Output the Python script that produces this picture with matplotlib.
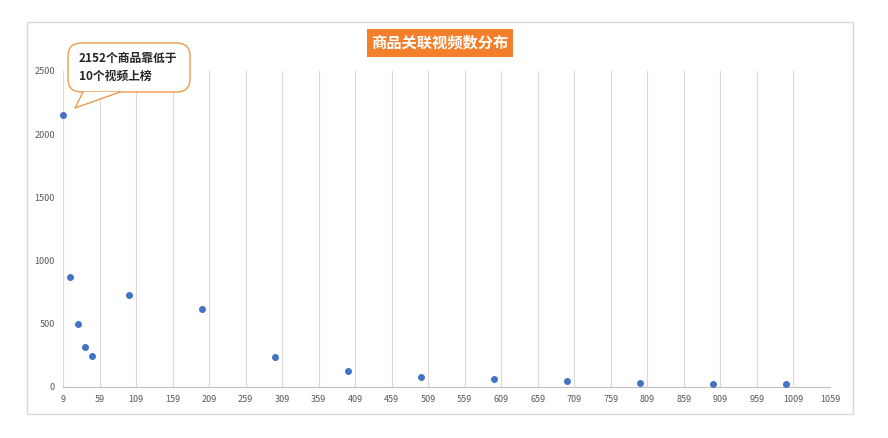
import matplotlib
matplotlib.use("Agg")
import matplotlib.pyplot as plt
from matplotlib.patches import Rectangle, FancyBboxPatch, Polygon
from matplotlib.lines import Line2D

plt.rcParams['font.family'] = ['Noto Sans CJK SC', 'DejaVu Sans']

# data
video_counts = [9, 19, 29, 39, 49, 99, 199, 299, 399, 499, 599, 699, 799, 899, 999]
product_counts = [2152, 870, 498, 316, 245, 728, 617, 237, 127, 79, 63, 47, 32, 24, 24]
x_ticks = list(range(9, 1060, 50))
y_ticks = [0, 500, 1000, 1500, 2000, 2500]
title = "商品关联视频数分布"
callout = "2152个商品靠低于\n10个视频上榜"

W, H = 888, 438
fig = plt.figure(figsize=(W / 100, H / 100), dpi=100)
fig.patch.set_facecolor('white')

def fx(px):
    return px / W

def fy(py):
    return 1 - py / H

# outer chart border
fig.patches.append(Rectangle((fx(27), fy(414)), fx(853) - fx(27), fy(22) - fy(414),
                             transform=fig.transFigure, fill=False,
                             edgecolor='#D9D9D9', linewidth=1.0))

ax = fig.add_axes([fx(63), fy(387), fx(830) - fx(63), fy(71) - fy(387)])
ax.scatter(video_counts, product_counts, s=16, color='#4472C4', zorder=3, clip_on=False)
ax.set_xlim(9, 1059)
ax.set_ylim(0, 2500)
ax.set_xticks(x_ticks)
ax.set_yticks(y_ticks)
ax.set_xticklabels([str(v) for v in x_ticks])
ax.set_yticklabels([str(v) for v in y_ticks])
ax.tick_params(axis='both', length=0, labelsize=6.5, colors='#595959', pad=6)
ax.grid(axis='x', color='#D9D9D9', linewidth=0.8)
ax.grid(axis='y', visible=False)
for s in ['top', 'right', 'left']:
    ax.spines[s].set_visible(False)
ax.spines['bottom'].set_color('#BFBFBF')
ax.spines['bottom'].set_linewidth(0.8)
ax.set_axisbelow(True)

# title box
x0, x1, y0, y1 = 367, 513, 29, 57
fig.patches.append(Rectangle((fx(x0), fy(y1)), fx(x1) - fx(x0), fy(y0) - fy(y1),
                             transform=fig.transFigure, facecolor='#F47F2A',
                             edgecolor='none'))
fig.text(fx((x0 + x1) / 2), fy((y0 + y1) / 2), title, color='white',
         fontsize=11, fontweight='bold', ha='center', va='center')

# callout
bx0, bx1, by0, by1 = 68, 190, 43, 92
box = FancyBboxPatch((fx(bx0), fy(by1)), fx(bx1) - fx(bx0), fy(by0) - fy(by1),
                     boxstyle="round,pad=0,rounding_size=0.015",
                     transform=fig.transFigure, facecolor='white',
                     edgecolor='#ED9A4C', linewidth=1.0, mutation_aspect=W / H)
fig.patches.append(box)
tail = Polygon([(fx(83), fy(92)), (fx(75), fy(108)), (fx(120), fy(92))],
               closed=True, transform=fig.transFigure, facecolor='white',
               edgecolor='none')
fig.patches.append(tail)
fig.lines.append(Line2D([fx(83), fx(75), fx(120)], [fy(92), fy(108), fy(92)],
                        transform=fig.transFigure, color='#ED9A4C', linewidth=1.0))
fig.text(fx(79), fy(67), callout, fontsize=8.5, fontweight='bold', color='#262626',
         ha='left', va='center', linespacing=1.5)

fig.savefig('out.png', dpi=100, facecolor='white')
